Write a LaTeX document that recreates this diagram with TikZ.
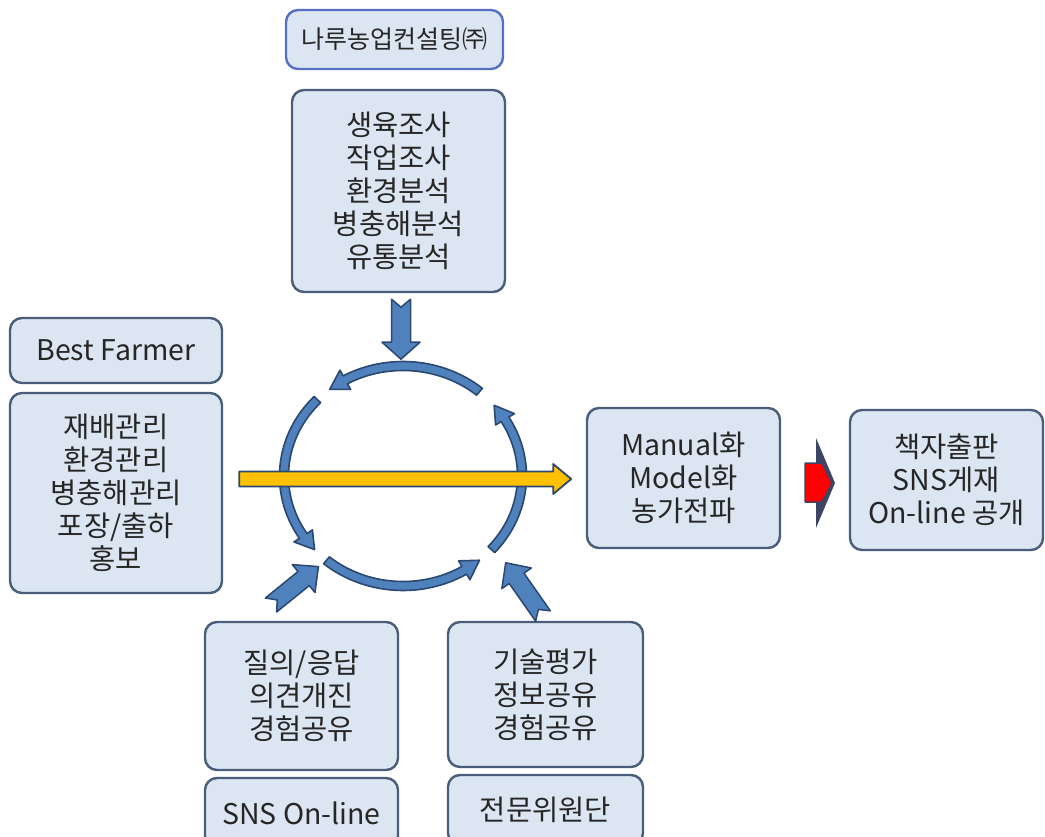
\documentclass[tikz,border=0pt]{standalone}
\usepackage{fontspec}
\setmainfont{Noto Sans CJK KR}
\usetikzlibrary{calc}
\definecolor{boxfill}{HTML}{DCE6F2}
\definecolor{boxline}{HTML}{4A5D7A}
\definecolor{topline}{HTML}{5870C4}
\definecolor{arrowfill}{HTML}{4F81BD}
\definecolor{arrowline}{HTML}{2B4870}
\definecolor{gold}{HTML}{FFC000}
\definecolor{headdark}{HTML}{3C4664}
\definecolor{ink}{HTML}{262626}

\tikzset{
    box/.style={draw=boxline, fill=boxfill, line width=2.4pt, rounded corners=12pt,
        align=center, text=ink, inner sep=0pt, font=\fontsize{28.5}{33}\selectfont},
    bluearrow/.style={fill=arrowfill, draw=arrowline, line width=1.5pt, line join=round},
    goldarrow/.style={fill=gold, draw=arrowline, line width=1.8pt, line join=round},
    ringpart/.style={fill=arrowfill, draw=arrowline, line width=1.6pt, line join=round}
}

% block arrow: [style]{tail}{rotation}{length}{half shaft}{half head}{head length}{notch}
\newcommand\fatarrow[8][bluearrow]{%
    \draw[#1, shift={#2}, rotate=#3]
        (0,-#5) -- ({#4-#7},-#5) -- ({#4-#7},-#6) -- (#4,0)
        -- ({#4-#7},#6) -- ({#4-#7},#5) -- (0,#5) -- (#8,0) -- cycle;}

% curved piece of the cycle: {start angle}{tip angle}
\newcommand\ringarrow[2]{%
    \pgfmathsetmacro\headang{#2+9}
    \draw[ringpart]
        ($(ring)+(#1:123.5 and 114.5)$)
            arc[start angle=#1, end angle=\headang, x radius=123.5, y radius=114.5]
        -- ($(ring)+(\headang:130 and 121)$)
        -- ($(ring)+(#2:119 and 110)$)
        -- ($(ring)+(\headang:108 and 99)$)
        -- ($(ring)+(\headang:114.5 and 105.5)$)
            arc[start angle=\headang, end angle=#1, x radius=114.5, y radius=105.5]
        -- cycle;}

\begin{document}
\begin{tikzpicture}[x=1pt, y=-1pt]
    \useasboundingbox (0,0) rectangle (1045,837);
    \clip (0,0) rectangle (1045,837);

    \node[box, draw=topline, font=\fontsize{25}{30}\selectfont,
        minimum width=217, minimum height=59] (consult) at (394.5,39.5) {나루농업컨설팅㈜};
    \node[box, minimum width=213, minimum height=202] (survey) at (398.5,191)
        {생육조사\\작업조사\\환경분석\\병충해분석\\유통분석};
    \node[box, minimum width=212, minimum height=65] (best) at (116,350.5) {Best Farmer};
    \node[box, minimum width=212, minimum height=200] (manage) at (116,493)
        {재배관리\\환경관리\\병충해관리\\포장/출하\\홍보};
    \node[box, minimum width=193, minimum height=140] (manual) at (683.5,478)
        {Manual화\\Model화\\농가전파};
    \node[box, minimum width=193, minimum height=140] (publish) at (946.5,480)
        {책자출판\\SNS게재\\On-line 공개};
    \node[box, minimum width=193, minimum height=148] (qna) at (301.5,696)
        {질의/응답\\의견개진\\경험공유};
    \node[box, minimum width=193, minimum height=70] (sns) at (301.5,813) {SNS On-line};
    \node[box, minimum width=195, minimum height=145] (tech) at (545.5,694.5)
        {기술평가\\정보공유\\경험공유};
    \node[box, minimum width=195, minimum height=70] (expert) at (545.5,810) {전문위원단};

    % cycle
    \coordinate (ring) at (403,476);
    \ringarrow{-50}{-128}
    \ringarrow{42}{-40}
    \ringarrow{224}{138}
    \ringarrow{130}{50}

    % inputs
    \fatarrow{($(survey.south)+(2.5,6)$)}{-90}{60}{9.5}{19}{17}{8}
    \fatarrow{(271,605)}{39}{61}{9}{18}{19}{8}
    \fatarrow{(543,616)}{125}{65}{9}{18}{19}{8}

    % through the cycle
    \fatarrow[goldarrow]{($(manage.east)+(16,-14)$)}{0}{332}{7.5}{15}{18}{0}

    % to publishing
    \fill[headdark] (816,438) -- (835,483) -- (816,528) -- cycle;
    \draw[fill=red, draw=headdark, line width=1.5pt, line join=round]
        (805,463) -- (822,463) -- (832,483) -- (822,502) -- (805,502) -- cycle;
\end{tikzpicture}
\end{document}
